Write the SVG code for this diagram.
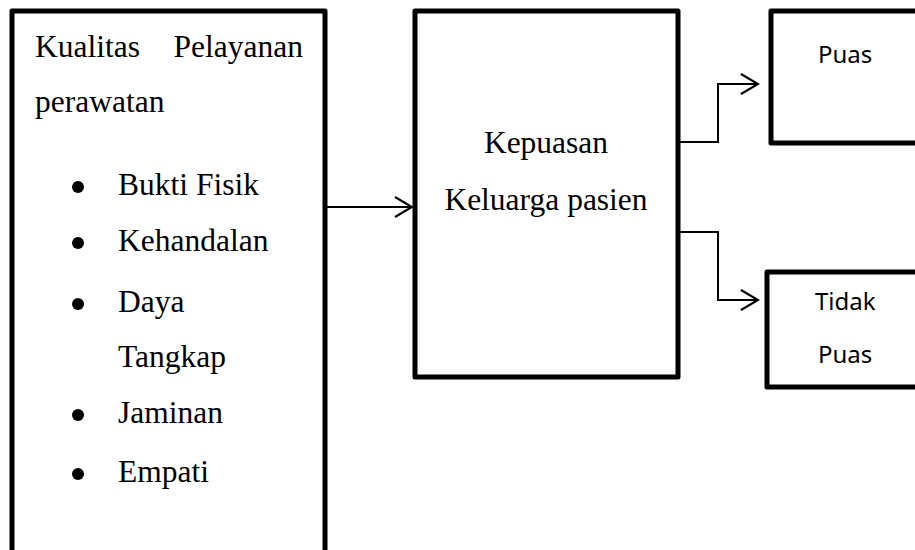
<svg xmlns="http://www.w3.org/2000/svg" width="915" height="550" viewBox="0 0 915 550">
  <style>
    .box { fill: #fff; stroke: #000; stroke-width: 5; stroke-linejoin: round; }
    .serif { font-family: "Liberation Serif", "Times New Roman", serif; font-size: 31.5px; fill: #000; }
    .sans { font-family: "Noto Sans", "Open Sans", sans-serif; font-size: 24px; fill: #000; }
    .conn { fill: none; stroke: #000; stroke-width: 2; }
  </style>
  <defs>
    <marker id="arrow" markerWidth="20" markerHeight="24" refX="18" refY="11" orient="auto" markerUnits="userSpaceOnUse">
      <path d="M1,1 L18,11 L1,21" fill="none" stroke="#000" stroke-width="2.2"/>
    </marker>
  </defs>

  <g id="node-kualitas">
    <rect class="box" x="12" y="11" width="313" height="560"/>
    <text class="serif" x="35" y="57">Kualitas</text>
    <text class="serif" x="303" y="57" text-anchor="end">Pelayanan</text>
    <text class="serif" x="35" y="112">perawatan</text>
    <circle cx="78" cy="187" r="6"/>
    <text class="serif" x="118" y="195">Bukti Fisik</text>
    <circle cx="78" cy="243" r="6"/>
    <text class="serif" x="118" y="251">Kehandalan</text>
    <circle cx="78" cy="304" r="6"/>
    <text class="serif" x="118" y="312">Daya</text>
    <text class="serif" x="118" y="367">Tangkap</text>
    <circle cx="78" cy="415" r="6"/>
    <text class="serif" x="118" y="423">Jaminan</text>
    <circle cx="78" cy="474" r="6"/>
    <text class="serif" x="118" y="482">Empati</text>
  </g>

  <g id="node-kepuasan">
    <rect class="box" x="415" y="11" width="263" height="366"/>
    <text class="serif" x="546" y="153" text-anchor="middle">Kepuasan</text>
    <text class="serif" x="546" y="210" text-anchor="middle">Keluarga pasien</text>
  </g>

  <g id="node-puas">
    <rect class="box" x="771" y="11" width="160" height="132"/>
    <text class="sans" x="818" y="63">Puas</text>
  </g>

  <g id="node-tidak-puas">
    <rect class="box" x="767" y="272" width="160" height="115"/>
    <text class="sans" x="815" y="310">Tidak</text>
    <text class="sans" x="818" y="363">Puas</text>
  </g>

  <g id="connectors">
    <path class="conn" d="M327,207 L412,207" marker-end="url(#arrow)"/>
    <path class="conn" d="M678,142 L718,142 L718,84 L758,84" marker-end="url(#arrow)"/>
    <path class="conn" d="M678,232 L718,232 L718,300 L758,300" marker-end="url(#arrow)"/>
  </g>
</svg>
